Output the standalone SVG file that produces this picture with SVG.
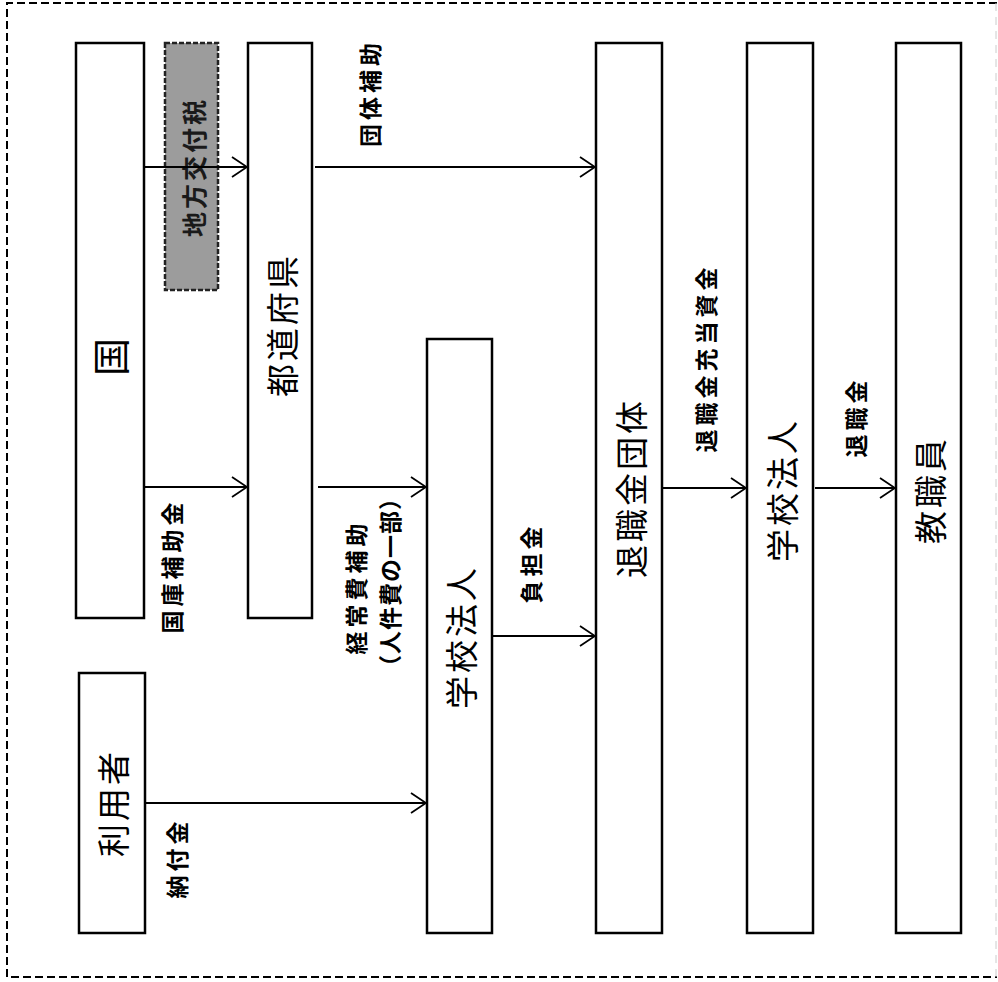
<svg xmlns="http://www.w3.org/2000/svg" width="998" height="982" viewBox="0 0 998 982">
<defs>
<marker id="arr" viewBox="0 0 16 22" refX="16" refY="11" markerWidth="16" markerHeight="22" markerUnits="userSpaceOnUse" orient="auto">
<path d="M1,1 L16,11 L1,21" fill="none" stroke="#000" stroke-width="1.8"/>
</marker>
</defs>
<style>
.box{fill:#fff;stroke:#000;stroke-width:2.5}
.nl{font-family:"Noto Sans CJK JP","Noto Sans CJK SC",sans-serif;font-size:33px;letter-spacing:3px;fill:#000;text-anchor:middle;dominant-baseline:central}
.kuni{font-family:"Noto Sans CJK JP","Noto Sans CJK SC",sans-serif;font-size:38px;fill:#000;text-anchor:middle;dominant-baseline:central}
.lb{font-family:"Noto Sans CJK JP","Noto Sans CJK SC",sans-serif;font-size:23px;font-weight:bold;letter-spacing:4px;fill:#000;text-anchor:middle;dominant-baseline:central}
.cn{fill:none;stroke:#000;stroke-width:2;marker-end:url(#arr)}
</style>
<rect width="998" height="982" fill="#fff"/>
<g id="frame">
<path d="M997,3 L7,3 L7,977 L997,977" fill="none" stroke="#000" stroke-width="2" stroke-dasharray="8,4"/>
<line x1="996" y1="3" x2="996" y2="977" stroke="#ccc" stroke-width="1" stroke-dasharray="8,6"/>
</g>
<g id="node-kuni">
<rect class="box" x="76" y="43" width="68" height="575"/>
<text class="kuni" x="0" y="0" transform="translate(108,357) rotate(-90)">国</text>
</g>
<g id="node-chihokofuzei">
<rect x="165" y="43" width="53" height="247" fill="#9c9c9c" stroke="#222" stroke-width="2.5" stroke-dasharray="5,2"/>
<text class="lb" style="font-size:25px;letter-spacing:3px;fill:#1a1a1a" transform="translate(193,167) rotate(-90)">地方交付税</text>
</g>
<g id="node-todofuken">
<rect class="box" x="248" y="43" width="64" height="575"/>
<text class="nl" transform="translate(281,325) rotate(-90)">都道府県</text>
</g>
<g id="node-riyosha">
<rect class="box" x="79" y="673" width="66" height="260"/>
<text class="nl" transform="translate(112,803) rotate(-90)">利用者</text>
</g>
<g id="node-gakko1">
<rect class="box" x="427" y="339" width="65" height="594"/>
<text class="nl" transform="translate(460,637) rotate(-90)">学校法人</text>
</g>
<g id="node-taishokukindantai">
<rect class="box" x="596" y="43" width="66" height="890"/>
<text class="nl" transform="translate(630,488) rotate(-90)">退職金団体</text>
</g>
<g id="node-gakko2">
<rect class="box" x="747" y="43" width="66" height="890"/>
<text class="nl" transform="translate(781,490) rotate(-90)">学校法人</text>
</g>
<g id="node-kyoshokuin">
<rect class="box" x="896" y="43" width="65" height="890"/>
<text class="nl" transform="translate(929,490) rotate(-90)">教職員</text>
</g>
<g id="connectors">
<line class="cn" x1="144" y1="167" x2="247" y2="167"/>
<line class="cn" x1="315" y1="167" x2="595" y2="167"/>
<line class="cn" x1="145" y1="487" x2="247" y2="487"/>
<line class="cn" x1="318" y1="487" x2="426" y2="487"/>
<line class="cn" x1="145" y1="803" x2="426" y2="803"/>
<line class="cn" x1="492" y1="636" x2="595" y2="636"/>
<line class="cn" x1="662" y1="488" x2="746" y2="488"/>
<line class="cn" x1="815" y1="488" x2="895" y2="488"/>
</g>
<g id="labels">
<text class="lb" transform="translate(369,93) rotate(-90)">団体補助</text>
<text class="lb" transform="translate(171,566) rotate(-90)">国庫補助金</text>
<text class="lb" transform="translate(355,587) rotate(-90)">経常費補助</text>
<text class="lb" style="letter-spacing:1px" transform="translate(389,582) rotate(-90)">（人件費の一部）</text>
<text class="lb" transform="translate(176,858) rotate(-90)">納付金</text>
<text class="lb" transform="translate(530,563) rotate(-90)">負担金</text>
<text class="lb" transform="translate(705,358) rotate(-90)">退職金充当資金</text>
<text class="lb" transform="translate(855,417) rotate(-90)">退職金</text>
</g>
</svg>
